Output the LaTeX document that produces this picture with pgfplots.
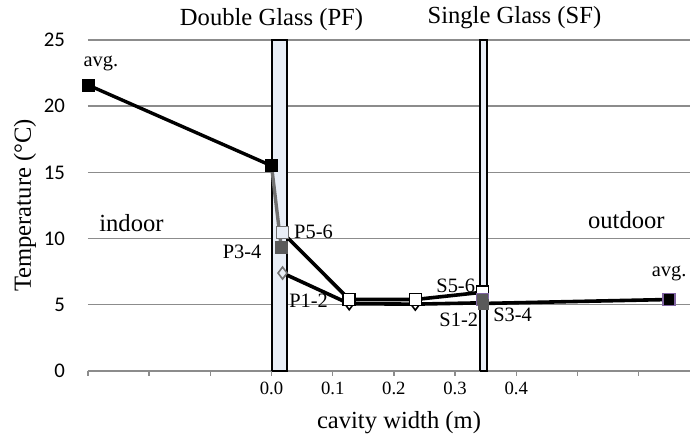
\documentclass[border=0pt]{standalone}
\usepackage{fontspec}
\setmainfont{Liberation Serif}
\newfontfamily\calibri{Carlito}
\usepackage{pgfplots}
\pgfplotsset{compat=1.18}
\definecolor{glass}{HTML}{E9EEF6}
\definecolor{gridc}{HTML}{8C8C8C}
\definecolor{pgray}{HTML}{707070}
\definecolor{pdark}{HTML}{5A5A5A}
\definecolor{purp}{HTML}{8064A2}
\newcommand{\ann}{\fontsize{10.2}{12}\selectfont}
\newcommand{\ttl}{\fontsize{12.3}{14}\selectfont}
\begin{document}
\begin{tikzpicture}
\begin{axis}[name=ax, scale only axis, width=301pt, height=165.5pt,
  xmin=-0.3, xmax=0.684, ymin=0, ymax=25, clip=false,
  axis x line*=bottom, axis y line*=left,
  y axis line style={draw=none},
  x axis line style={gridc, line width=0.7pt, -},
  xtick={-0.3,-0.2,-0.1,0,0.1,0.2,0.3,0.4,0.5,0.6},
  xticklabels={{},{},{},0.0,0.1,0.2,0.3,0.4,{},{}},
  tick align=outside, major tick length=2.5pt,
  xtick style={gridc, line width=0.7pt},
  ytick={0,5,10,15,20,25}, ytick style={draw=none},
  ymajorgrids, grid style={gridc, line width=0.7pt},
  /pgf/number format/assume math mode=true,
  xticklabel style={font=\fontsize{9.35}{11}\selectfont, anchor=north, yshift=0.5pt},
  yticklabel style={font=\calibri\fontsize{10.4}{12}\selectfont, anchor=east, xshift=-5.5pt},
  every axis x label/.style={at={(rel axis cs:0.5166,0)}, yshift=-26pt, anchor=center, font=\ttl},
  every axis y label/.style={at={(rel axis cs:0,0.5)}, xshift=-31.5pt, rotate=90, anchor=center, font=\ttl},
  xlabel={cavity width (m)}, ylabel={Temperature (°C)},
]
% glass panes
\addplot[draw=black, line width=1pt, fill=glass] coordinates {(0,0) (0.025,0) (0.025,25) (0,25) (0,0)};
\addplot[draw=black, line width=1pt, fill=glass] coordinates {(0.34,0) (0.352,0) (0.352,25) (0.34,25) (0.34,0)};
% lines
\addplot[black, line width=1.7pt, mark=none] coordinates {(-0.3,21.6) (0,15.5)};
\addplot[pgray, line width=1.7pt, mark=none] coordinates {(0,15.5) (0.016,9.3)};
\addplot[black, line width=1.8pt, mark=none] coordinates {(0.018,10.45) (0.127,5.4) (0.235,5.4) (0.345,5.95)};
\addplot[black, line width=1.8pt, mark=none] coordinates {(0.018,7.4) (0.127,5.08) (0.235,5.05) (0.345,5.15)};
\addplot[black, line width=1.8pt, mark=none] coordinates {(0.345,5.1) (0.65,5.4)};
% markers
\addplot[only marks, mark=square*, mark size=3pt, mark options={draw=black, fill=black}] coordinates {(-0.3,21.6) (0,15.5)};
\addplot[only marks, mark=square*, mark size=3pt, mark options={draw=pgray, fill=glass, line width=0.8pt}] coordinates {(0.018,10.45)};
\addplot[only marks, mark=square*, mark size=3pt, mark options={draw=pdark, fill=pdark}] coordinates {(0.016,9.3)};
\addplot[only marks, mark=diamond*, mark size=3pt, mark options={draw=pgray, fill=glass, line width=0.8pt}] coordinates {(0.018,7.4)};
\addplot[only marks, mark=diamond*, mark size=3pt, mark options={draw=black, fill=white, line width=0.8pt}] coordinates {(0.127,5.08) (0.235,5.05)};
\addplot[only marks, mark=square*, mark size=3pt, mark options={draw=black, fill=white, line width=0.8pt}] coordinates {(0.127,5.4) (0.235,5.4) (0.345,5.95)};
\addplot[only marks, mark=square*, mark size=3pt, mark options={draw=purp, fill=pdark, line width=0.8pt}] coordinates {(0.345,5.4)};
\addplot[only marks, mark=square*, mark size=2.5pt, mark options={draw=pdark, fill=pdark}] coordinates {(0.347,5.05)};
\addplot[only marks, mark=square*, mark size=3pt, mark options={draw=purp, fill=black, line width=0.8pt}] coordinates {(0.65,5.4)};
% annotations
\node[font=\ttl] at (axis cs:0.0,25) [yshift=10pt] {Double Glass (PF)};
\node[font=\ttl] at (axis cs:0.397,25) [yshift=11pt] {Single Glass (SF)};
\node[font=\ttl] at (axis cs:-0.229,11.18) {indoor};
\node[font=\ttl] at (axis cs:0.58,11.4) {outdoor};
\node[font=\ann] at (axis cs:-0.279,23.26) {avg.};
\node[font=\ann] at (axis cs:0.650,7.4) {avg.};
\node[font=\ann] at (axis cs:0.0686,10.52) {P5-6};
\node[font=\ann] at (axis cs:-0.048,8.99) {P3-4};
\node[font=\ann] at (axis cs:0.0605,5.3) {P1-2};
\node[font=\ann] at (axis cs:0.301,6.42) {S5-6};
\node[font=\ann] at (axis cs:0.306,3.85) {S1-2};
\node[font=\ann] at (axis cs:0.394,4.23) {S3-4};
\end{axis}
\pgfresetboundingbox
\path[use as bounding box] ([xshift=-44pt,yshift=-36pt]ax.south west) rectangle ([yshift=20pt]ax.north east);
\end{tikzpicture}
\end{document}
